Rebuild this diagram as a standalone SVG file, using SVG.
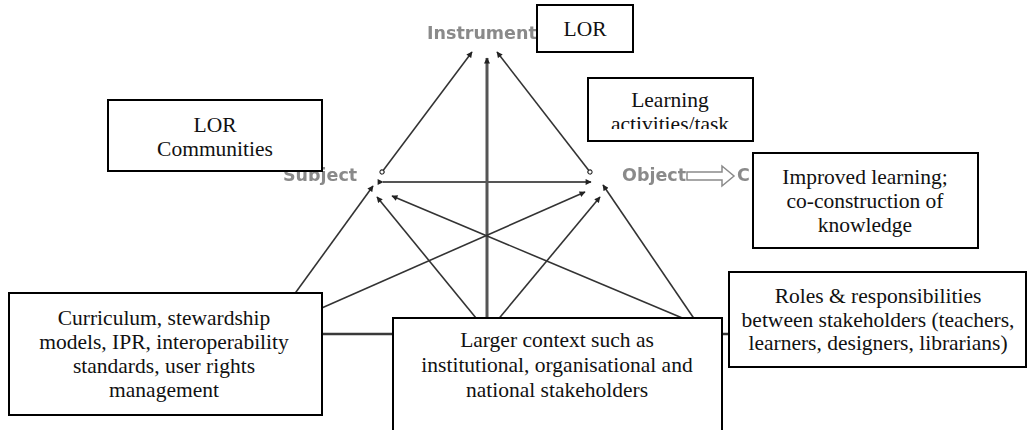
<svg xmlns="http://www.w3.org/2000/svg" width="1029" height="430" viewBox="0 0 1029 430">
<style>
.box{fill:#fff;stroke:#000;stroke-width:2}
.bt{font-family:'Liberation Serif','Times New Roman','DejaVu Serif',serif;font-size:21.5px;fill:#111;text-anchor:middle}
.lbl{font-family:'DejaVu Sans',Verdana,sans-serif;font-weight:bold;font-size:17.5px;fill:#8a8a8a}
.ln{stroke:#333;stroke-width:1.6;fill:none}
.thick{stroke:#555;stroke-width:3;fill:none}
</style>
<defs>
<marker id="ah" viewBox="0 0 10 10" refX="9" refY="5" markerWidth="7" markerHeight="6" markerUnits="userSpaceOnUse" orient="auto">
<path d="M0,0 L10,5 L0,10 z" fill="#222"/>
</marker>
<marker id="tc" viewBox="0 0 10 10" refX="5" refY="5" markerWidth="6" markerHeight="6" markerUnits="userSpaceOnUse" orient="auto">
<circle cx="5" cy="5" r="3.5" fill="#fff" stroke="#222" stroke-width="1.8"/>
</marker>
<clipPath id="clipLearn"><rect x="588" y="78" width="165" height="51"/></clipPath>
<filter id="soft" x="-5%" y="-20%" width="110%" height="140%"><feGaussianBlur stdDeviation="0.5"/></filter>
</defs>
<rect width="1029" height="430" fill="#fff"/>

<g id="connectors">
<line class="ln" x1="382" y1="172" x2="472" y2="52" marker-start="url(#tc)" marker-end="url(#ah)"/>
<line class="ln" x1="590" y1="172" x2="497" y2="52" marker-start="url(#tc)" marker-end="url(#ah)"/>
<line class="thick" x1="487" y1="340" x2="487" y2="58" marker-end="url(#ah)"/>
<line class="thick" x1="383" y1="182" x2="591" y2="182" marker-start="url(#ah)" marker-end="url(#ah)" style="stroke-width:2"/>
<line class="ln" x1="259" y1="343" x2="373" y2="186" marker-end="url(#ah)"/>
<line class="ln" x1="265" y1="333" x2="585" y2="192" marker-end="url(#ah)"/>
<line class="ln" x1="494" y1="340" x2="377" y2="197" marker-end="url(#ah)"/>
<line class="ln" x1="481" y1="340" x2="600" y2="197" marker-end="url(#ah)"/>
<line class="ln" x1="718" y1="333" x2="392" y2="196" marker-end="url(#ah)"/>
<line class="ln" x1="712" y1="345" x2="603" y2="185" marker-end="url(#ah)"/>
<line class="ln" x1="300" y1="334" x2="735" y2="334" style="stroke:#3a3a3a;stroke-width:2.4"/>
<path d="M687,172 H722 V166 L734,176 L722,186 V180 H687 z" fill="#fff" stroke="#8a8a8a" stroke-width="1.5"/>
</g>

<g id="instrument" filter="url(#soft)"><text class="lbl" x="427" y="39">Instrument</text></g>
<g id="subject" filter="url(#soft)"><text class="lbl" x="283" y="181">Subject</text></g>
<g id="object" filter="url(#soft)"><text class="lbl" x="622" y="181">Object</text><text class="lbl" x="737" y="181">C</text></g>

<g id="lor">
<rect class="box" x="537" y="5" width="96" height="47"/>
<text class="bt" x="585" y="36">LOR</text>
</g>
<g id="lor-communities">
<rect class="box" x="108" y="100" width="214" height="71"/>
<text class="bt" x="215" y="132">LOR</text>
<text class="bt" x="215" y="156">Communities</text>
</g>
<g id="learning-activities">
<rect class="box" x="588" y="78" width="165" height="63"/>
<g clip-path="url(#clipLearn)">
<text class="bt" x="670" y="107">Learning</text>
<text class="bt" x="670" y="131">activities/task</text>
</g>
</g>
<g id="improved-learning">
<rect class="box" x="753" y="153" width="225" height="95"/>
<text class="bt" x="865" y="184">Improved learning;</text>
<text class="bt" x="865" y="208">co-construction of</text>
<text class="bt" x="865" y="232">knowledge</text>
</g>
<g id="rules">
<rect class="box" x="9" y="293" width="313" height="122"/>
<text class="bt" x="164" y="325">Curriculum, stewardship</text>
<text class="bt" x="164" y="349">models, IPR, interoperability</text>
<text class="bt" x="164" y="373">standards, user rights</text>
<text class="bt" x="164" y="397">management</text>
</g>
<g id="division-of-labour">
<rect class="box" x="729" y="272" width="297" height="95"/>
<text class="bt" x="878" y="303">Roles &amp; responsibilities</text>
<text class="bt" x="878" y="327">between stakeholders (teachers,</text>
<text class="bt" x="878" y="350">learners, designers, librarians)</text>
</g>
<g id="community">
<rect class="box" x="393" y="318" width="329" height="130"/>
<text class="bt" x="557" y="347">Larger context such as</text>
<text class="bt" x="557" y="372">institutional, organisational and</text>
<text class="bt" x="557" y="397">national stakeholders</text>
</g>
</svg>
